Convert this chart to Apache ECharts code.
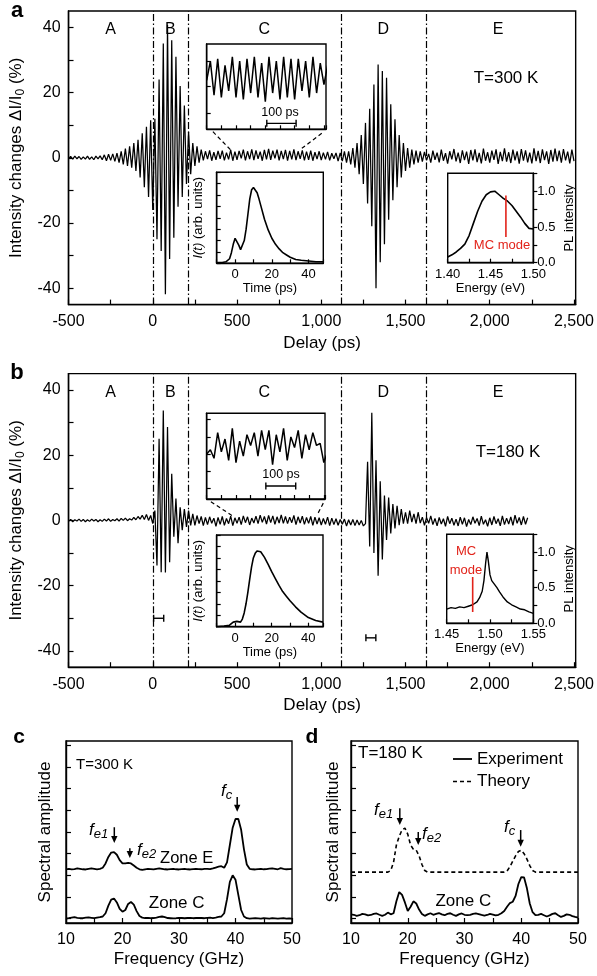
<!DOCTYPE html>
<html><head><meta charset="utf-8">
<script src="https://cdn.jsdelivr.net/npm/echarts@6/dist/echarts.min.js"></script>
<style>html,body{margin:0;padding:0;background:#fff}#c{width:597px;height:976px}</style>
</head><body><div id="c"></div>
<script>
// ---------------- DATA ----------------
// Panel a: delay grid start/step (ps) and signal (%)
const A_T0 = -500, A_DT = 12.5;
const aSignal = [
-0.3,0.4,-0.4,0.5,-0.3,0.4,-0.5,0.3,
-0.4,0.5,-0.5,0.3,-0.6,0.5,-0.3,0.6,
-0.6,0.9,-0.9,1.1,-0.8,1.2,-1.1,1.4,
-1.5,2.0,-2.0,2.8,-2.5,3.5,-3.0,4.5,
-4.0,5.5,-6.0,7.5,-9.0,9.5,-12.0,11.5,
-16,12,-25,24,-28.6,35,-41.8,40.7,
-31,36,-24.5,31,-15,22,-12,16,
-8,8,-5,4.5,-2.5,3.5,-1.5,2.5,
-0.8,2.0,-0.4,2.3,-0.9,1.7,-0.6,2.1,
-0.3,2.2,-0.8,1.6,-0.5,2.4,-0.9,1.9,
-0.6,2.1,-0.2,2.5,-0.8,2.0,-0.4,2.6,
-0.7,2.3,-0.3,1.9,-0.9,2.4,-0.5,2.7,
-0.6,2.2,-0.2,2.5,-0.8,2.1,-0.4,2.4,
-0.9,2.1,-0.5,2.6,-0.7,2.0,-0.3,2.3,
-0.8,1.9,-0.6,2.2,-0.9,1.7,-0.4,2.0,
-0.7,1.6,-0.5,1.8,-0.8,1.4,-0.3,1.5,
-1.0,1.5,-1.0,2.0,-1.5,2.0,-2.0,3.0,
-3.0,4.5,-5.0,7.0,-8.0,10.7,-14,15,
-21,22.5,-40,28.6,-32,26.6,-26.5,24.5,
-19,16.4,-13,11.8,-9,7,-6,4.5,
-4,3,-3,2.5,-2,2.2,-1.5,2,
-1.2,1.8,-0.8,1.2,-1.5,2.2,-0.6,1.6,
-1.4,2.5,-0.9,1.4,-1.8,2.0,-0.5,2.7,
-1.1,1.6,-1.6,2.3,-0.7,1.9,-1.9,2.4,
-0.8,2.6,-1.3,1.5,-1.7,2.8,-0.9,1.7,
-1.5,2.2,-0.6,2.6,-1.9,1.8,-1.0,2.9,
-1.2,1.7,-1.6,2.5,-0.8,2.0,-1.8,2.7,
-0.9,2.3,-1.4,1.6,-1.7,2.9,-1.0,2.1,
-1.6,2.6,-0.7,2.0,-1.9,2.4,-1.2,2.8,
-1.0,2.2,-1.5,2.7,-0.8,1.9,-1.7,2.5,
-1.0
];
// Panel b
const B_T0 = -500, B_DT = 12.5;
const bSignal = [
-0.3,0.3,-0.4,0.2,-0.2,0.4,-0.3,0.3,
-0.4,0.2,-0.3,0.4,-0.2,0.3,-0.4,0.2,
-0.3,0.4,-0.2,0.5,-0.3,0.3,-0.1,0.5,
-0.2,0.6,0.0,0.7,-0.1,0.5,0.1,0.9,
0.2,1.2,0.4,1.6,0.3,1.8,0.0,1.5,
-1,3,-13.8,25,-15.9,33.7,-16,28.6,
-12.8,14.3,-5,6.7,-7,4,-3,3.5,
-2,3,-1.5,2,-1.5,1.5,-1,1.2,
-1.6,0.9,-1.3,1.1,-0.9,0.7,-1.8,0.9,
-1.2,1.2,-1.5,0.6,-1.0,1.3,-1.6,0.8,
-0.9,1.0,-1.3,1.4,-0.7,1.1,-1.4,0.7,
-0.8,1.3,-1.0,1.6,-0.6,1.2,-1.1,1.5,
-0.7,1.4,-1.2,1.1,-0.8,1.7,-0.9,1.2,
-1.0,1.0,-0.7,1.5,-1.3,1.1,-0.8,1.3,
-1.2,0.9,-0.9,1.2,-1.5,1.0,-1.1,0.8,
-1.4,0.6,-1.2,1.0,-1.6,0.7,-1.3,0.5,
-1.5,0.3,-1.2,0.4,-1.7,0.2,-1.4,0.3,
-1.6,0.1,-1.4,0.0,-1.7,-1.0,18,-8,
33,-10,18.4,-17,12,-12,7.6,-6,
7,-4,5,-2.5,4.5,-1.5,3.5,-1,
2.5,-1,3,-0.5,2,-1,2.5,-0.8,
1.0,-1.5,0.8,-0.9,1.4,-1.3,0.6,-1.7,
0.9,-1.1,0.5,-1.8,1.2,-1.0,0.7,-1.5,
0.4,-1.7,1.0,-1.2,0.8,-1.9,0.3,-1.3,
1.1,-0.9,0.6,-1.6,1.3,-1.2,0.2,-1.8,
0.8,-1.4,1.2,-1.0,0.5,-1.7,1.4,-1.3,
0.7,-1.1,1.1,-1.5,1.6,-0.9,0.9,-1.4,
1.2,-1.2,0.8
];
// Zone boundaries (ps)
const zoneBounds = [0, 209, 1116, 1621];
const zoneNames = ['A','B','C','D','E'];
// Zoom insets (relative ps, arb.)
const Z_DT = 12.5;
const aZoom = [0.3,1.2,-0.4,1.3,-0.5,1.0,-0.2,1.4,-0.5,1.2,-0.6,1.3,-0.3,1.4,-0.5,1.1,-0.7,1.4,-0.3,1.2,-0.6,1.4,-0.5,1.3,-0.6,1.3,-0.2,1.2,-0.5,1.4,-0.3,1.1,0.1,1.0];
const bZoom = [0.1,0.3,-0.1,1.1,0.2,0.8,-0.2,1.3,-0.3,0.7,0.0,1.0,0.5,1.1,0.0,1.2,0.3,1.2,-0.4,1.0,0.2,1.3,-0.2,0.9,0.4,1.2,-0.1,1.0,0.3,1.1,0.5,0.6,-0.3,0.2];
// Pulse insets I(t)
const aPulseT = [-10,-7,-5,-3,-2,-1,0,1,2,3,4,5,6,7,8,9,10,11,12,13,14,16,18,20,22,24,26,28,30,33,36,40,44,48];
const aPulseV = [0.01,0.01,0.02,0.06,0.14,0.25,0.33,0.32,0.24,0.18,0.2,0.3,0.45,0.65,0.85,0.97,1.0,0.99,0.93,0.85,0.76,0.58,0.44,0.33,0.25,0.19,0.14,0.11,0.08,0.05,0.04,0.03,0.02,0.02];
const bPulseT = [-10,-6,-3,-1,0,1,2,3,4,5,6,7,8,9,10,11,12,13,14,16,18,20,22,24,26,28,30,33,36,40,44,48];
const bPulseV = [0.0,0.01,0.02,0.06,0.08,0.07,0.05,0.06,0.1,0.18,0.3,0.45,0.62,0.78,0.9,0.96,0.99,1.0,0.98,0.91,0.82,0.72,0.63,0.54,0.46,0.4,0.34,0.26,0.19,0.12,0.08,0.06];
// PL insets
const aPLE = [1.400,1.405,1.410,1.415,1.420,1.425,1.430,1.435,1.440,1.445,1.450,1.455,1.460,1.465,1.470,1.475,1.480,1.485,1.490,1.495,1.500];
const aPLV = [0.08,0.11,0.15,0.2,0.26,0.38,0.55,0.72,0.86,0.95,0.99,1.0,0.95,0.9,0.86,0.8,0.72,0.64,0.55,0.48,0.47];
const bPLE = [1.450,1.455,1.460,1.465,1.470,1.475,1.480,1.485,1.488,1.491,1.493,1.495,1.4965,1.498,1.500,1.502,1.505,1.508,1.511,1.515,1.520,1.525,1.530,1.535,1.540,1.545,1.550];
const bPLV = [0.20,0.22,0.21,0.23,0.22,0.24,0.26,0.3,0.36,0.45,0.6,0.85,1.0,0.88,0.68,0.6,0.55,0.5,0.44,0.37,0.3,0.26,0.23,0.2,0.19,0.16,0.14];
const aMC = {E:1.468, y0:0.36, y1:0.94};
const bMC = {E:1.480, y0:0.16, y1:0.65};
// Spectra (GHz grid)
const F0 = 10, DF = 0.5;
const zoneC300 = [0.20,0.22,0.25,0.27,0.24,0.22,0.22,0.25,0.26,0.24,0.22,0.25,0.27,0.30,0.45,0.80,1.08,1.13,0.95,0.65,0.52,0.60,0.88,0.97,0.85,0.55,0.32,0.25,0.23,0.24,0.22,0.23,0.25,0.28,0.30,0.27,0.23,0.22,0.21,0.22,0.24,0.23,0.22,0.23,0.24,0.22,0.23,0.24,0.23,0.22,0.24,0.25,0.23,0.25,0.28,0.30,0.45,1.10,1.90,2.20,2.00,1.30,0.60,0.30,0.22,0.20,0.21,0.22,0.21,0.20,0.22,0.21,0.20,0.22,0.21,0.20,0.21,0.22,0.20,0.21,0.20];
const zoneE300 = [2.48,2.50,2.47,2.49,2.52,2.50,2.48,2.47,2.50,2.52,2.50,2.48,2.50,2.55,2.75,3.05,3.25,3.27,3.15,2.90,2.75,2.75,2.78,2.75,2.65,2.55,2.48,2.45,2.48,2.50,2.49,2.47,2.50,2.52,2.50,2.48,2.47,2.49,2.50,2.48,2.47,2.49,2.50,2.48,2.47,2.49,2.50,2.49,2.48,2.50,2.50,2.49,2.52,2.56,2.60,2.62,2.55,2.80,3.60,4.40,4.80,4.80,4.30,3.40,2.70,2.50,2.48,2.47,2.49,2.50,2.48,2.49,2.51,2.52,2.50,2.48,2.53,2.50,2.48,2.49,2.50];
const exp180 = [0.40,0.38,0.33,0.36,0.42,0.40,0.35,0.37,0.42,0.44,0.38,0.33,0.38,0.48,0.40,0.45,1.00,1.43,1.30,0.95,0.55,0.75,1.00,0.90,0.62,0.42,0.33,0.40,0.45,0.38,0.42,0.46,0.40,0.36,0.42,0.45,0.38,0.33,0.40,0.44,0.38,0.36,0.38,0.42,0.44,0.41,0.37,0.34,0.37,0.42,0.39,0.35,0.38,0.45,0.55,0.75,0.92,0.98,1.25,1.80,2.12,2.10,1.60,0.90,0.50,0.36,0.38,0.42,0.36,0.30,0.35,0.42,0.45,0.36,0.28,0.33,0.40,0.38,0.32,0.28,0.25];
const theory180 = [2.35,2.35,2.35,2.35,2.35,2.35,2.35,2.35,2.35,2.35,2.35,2.35,2.35,2.35,2.42,2.80,3.60,4.00,4.30,4.38,4.10,3.60,3.40,3.36,3.10,2.70,2.42,2.35,2.35,2.35,2.35,2.35,2.35,2.35,2.35,2.35,2.35,2.35,2.35,2.35,2.35,2.35,2.35,2.35,2.35,2.35,2.35,2.35,2.35,2.35,2.35,2.35,2.35,2.35,2.35,2.40,2.60,2.85,3.10,3.30,3.36,3.20,2.95,2.65,2.42,2.35,2.35,2.35,2.35,2.35,2.35,2.35,2.35,2.35,2.35,2.35,2.35,2.35,2.35,2.35,2.35];
const legendNames = ['Experiment', 'Theory'];
// annotation anchors (data units)
const aConnectors = [[[357,8.0],[463,2.4]],[[1003,7.5],[885,2.9]]];
const bConnectors = [[[345,5.7],[482,1.1]],[[1012,5.3],[981,2.2]]];
const bPulseMarks = [[[5,-30],[65,-30]],[[1265,-36],[1324,-36]]];
const aScaleBar = [[205,-1.72],[305,-1.72]];
const bScaleBar = [[202,-1.39],[304,-1.39]];
const cArrows = [[18.55,4.42,3.69],[21.3,3.45,3.0],[40.3,5.82,5.13]];
const dArrows = [[18.6,5.3,4.52],[21.85,4.2,3.6],[39.9,4.29,3.52]];

// ---------------- BUILD ----------------
const FONT = 'Liberation Sans, Arial, sans-serif';
const K = '#000', RED = '#e2231a';
const pairs = (t0, dt, arr) => arr.map((v, i) => [t0 + i * dt, v]);
const zip = (xs, ys) => xs.map((x, i) => [x, ys[i]]);

function merge(a, b) {
  const o = Array.isArray(a) ? a.slice() : Object.assign({}, a);
  for (const k in b) {
    if (b[k] && typeof b[k] === 'object' && !Array.isArray(b[k]) && a[k] && typeof a[k] === 'object' && !Array.isArray(a[k])) o[k] = merge(a[k], b[k]);
    else o[k] = b[k];
  }
  return o;
}
const baseAxis = {
  type: 'value',
  axisLine: {show: true, onZero: false, lineStyle: {color: K, width: 1.4}},
  axisTick: {show: true, inside: true, length: 5, lineStyle: {color: K, width: 1.2}},
  splitLine: {show: false},
  axisLabel: {color: K, fontSize: 16, fontFamily: FONT},
  nameLocation: 'middle',
  nameTextStyle: {color: K, fontSize: 17, fontFamily: FONT}
};
const ax = o => merge(baseAxis, o);
function frame(o) { return Object.assign({show: true, borderColor: K, borderWidth: 1.4, backgroundColor: 'transparent'}, o); }
const commas = v => { if (v % 500 !== 0) return ''; const a = Math.abs(v); const s = a >= 1000 ? Math.floor(a / 1000) + ',' + String(a % 1000).padStart(3, '0') : String(a); return (v < 0 ? '-' : '') + s; };

const grids = [
  frame({left: 66.5, top: 11, width: 511, height: 293.6}),
  frame({left: 66.5, top: 373.6, width: 511, height: 293.6}),
  frame({left: 66, top: 741, width: 226, height: 182}),
  frame({left: 351, top: 741, width: 227, height: 182}),
  frame({left: 206.7, top: 44, width: 119.3, height: 85.3, backgroundColor: '#fff'}),
  frame({left: 216.7, top: 172.3, width: 106.6, height: 91, backgroundColor: '#fff'}),
  frame({left: 447.7, top: 173.3, width: 85.6, height: 89.4, backgroundColor: '#fff'}),
  frame({left: 206.7, top: 413.3, width: 118.3, height: 85.7, backgroundColor: '#fff'}),
  frame({left: 216.7, top: 535, width: 106.3, height: 91.7, backgroundColor: '#fff'}),
  frame({left: 446.7, top: 534.3, width: 86.6, height: 89, backgroundColor: '#fff'})
];

const yNameMain = {
  name: '{n|Intensity changes ΔI/I}{s|0}{n| (%)}', nameGap: 35, nameRotate: 90,
  nameTextStyle: {rich: {n: {fontSize: 17, fontFamily: FONT, color: K}, s: {fontSize: 12, fontFamily: FONT, color: K, padding: [8, 0, 0, 0]}}}
};
const mainX = gi => ax({gridIndex: gi, min: -500, max: 2510, interval: 500,
  minorTick: {show: true, splitNumber: 2, length: 5, lineStyle: {color: K, width: 1.2}},
  axisLabel: {formatter: commas, margin: 9}, name: 'Delay (ps)', nameGap: 30});
const mainY = gi => ax(Object.assign({gridIndex: gi, min: -45, max: 45,
  axisTick: {customValues: [-40, -30, -20, -10, 0, 10, 20, 30, 40]},
  axisLabel: {customValues: [-40, -20, 0, 20, 40], margin: 8}}, yNameMain));
const specX = gi => ax({gridIndex: gi, min: 10, max: 50, interval: 5,
  axisLabel: {formatter: v => (v % 10 === 0 ? String(v) : ''), margin: 9}, name: 'Frequency (GHz)', nameGap: 28});
const specY = (gi, gap) => ax({gridIndex: gi, min: 0, max: 8.4,
  axisTick: {customValues: [0.2, 1.2, 2.2, 3.2, 4.2, 5.2, 6.2, 7.2, 8.2]},
  axisLabel: {show: false}, name: 'Spectral amplitude', nameGap: gap, nameRotate: 90});
const small = {fontSize: 13};
const zoomX = (gi, mx) => ax({gridIndex: gi, min: 0, max: mx, interval: 50, axisTick: {length: 4}, axisLabel: {show: false}});
const zoomY = (gi, ticks) => ax({gridIndex: gi, min: -2, max: 2, axisTick: {length: 4, customValues: ticks}, axisLabel: {show: false}});
const pulseX = gi => ax({gridIndex: gi, min: -10, max: 48, interval: 10, axisTick: {length: 4},
  axisLabel: {fontSize: 13, margin: 5, formatter: v => (v >= 0 && v % 20 === 0 ? String(v) : '')},
  name: 'Time (ps)', nameGap: 18, nameTextStyle: small});
const pulseY = gi => ax({gridIndex: gi, min: 0, max: 1.2, interval: 0.15, axisTick: {length: 4}, axisLabel: {show: false},
  name: '{i|I(t)} (arb. units)', nameGap: 12, nameRotate: 90,
  nameTextStyle: {fontSize: 13, rich: {i: {fontStyle: 'italic', fontSize: 13, fontFamily: FONT, color: K}}}});
const plX = (gi, lo, hi) => ax({gridIndex: gi, min: lo, max: hi, interval: 0.025, axisTick: {length: 4},
  axisLabel: {fontSize: 13, margin: 5, formatter: v => { const r = Math.round(v * 20); return Math.abs(v * 20 - r) < 1e-6 ? (r / 20).toFixed(2) : ''; }},
  name: 'Energy (eV)', nameGap: 19, nameTextStyle: small});
const plY = gi => ax({gridIndex: gi, position: 'right', min: 0, max: 1.25, interval: 0.25,
  axisTick: {inside: false, length: 4},
  axisLabel: {fontSize: 13, margin: 4, formatter: v => { const r = Math.round(v * 2); return Math.abs(v * 2 - r) < 1e-6 && v <= 1.0 ? (r / 2).toFixed(1) : ''; }},
  name: 'PL intensity', nameGap: 30, nameRotate: 90, nameTextStyle: small});

const xAxes = [mainX(0), mainX(1), specX(2), specX(3), zoomX(4, 407), pulseX(5), plX(6, 1.40, 1.50), zoomX(7, 404), pulseX(8), plX(9, 1.45, 1.55)];
const yAxes = [mainY(0), mainY(1), specY(2, 12), specY(3, 9), zoomY(4, [-1.25, 0, 1.2]), pulseY(5), plY(6), zoomY(7, [-1.5, -0.7, 0.1, 0.9, 1.7]), pulseY(8), plY(9)];

function line(gi, data, extra) {
  return Object.assign({type: 'line', xAxisIndex: gi, yAxisIndex: gi, data, showSymbol: false, symbol: 'none',
    silent: true, animation: false, lineStyle: {color: K, width: 1.3}, itemStyle: {color: K}}, extra || {});
}
const zoneMark = {silent: true, symbol: 'none', label: {show: false},
  lineStyle: {color: K, type: [7, 2.5, 1.5, 2.5], width: 1.2}, data: zoneBounds.map(x => ({xAxis: x}))};
const capLine = (gi, data) => line(gi, data, {showSymbol: true, symbol: 'rect', symbolSize: [1.4, 7], lineStyle: {color: K, width: 1.4}});

const expStyle = {color: K, width: 1.8};
const theoStyle = {color: K, width: 1.6, type: [4, 3]};
const series = [
  line(0, pairs(A_T0, A_DT, aSignal), {markLine: zoneMark, lineStyle: {color: K, width: 1.25}}),
  ...aConnectors.map(d => line(0, d, {lineStyle: {color: K, width: 1.2, type: [4, 3]}})),
  line(1, pairs(B_T0, B_DT, bSignal), {markLine: zoneMark, lineStyle: {color: K, width: 1.25}}),
  ...bConnectors.map(d => line(1, d, {lineStyle: {color: K, width: 1.2, type: [4, 3]}})),
  ...bPulseMarks.map(d => capLine(1, d)),
  line(2, pairs(F0, DF, zoneE300), {lineStyle: {color: K, width: 1.8}}),
  line(2, pairs(F0, DF, zoneC300), {lineStyle: {color: K, width: 1.8}}),
  line(3, pairs(F0, DF, exp180), {name: legendNames[0], lineStyle: expStyle}),
  line(3, pairs(F0, DF, theory180), {name: legendNames[1], lineStyle: theoStyle}),
  line(4, pairs(0, Z_DT, aZoom), {lineStyle: {color: K, width: 1.5}}),
  capLine(4, aScaleBar),
  line(5, zip(aPulseT, aPulseV), {lineStyle: {color: K, width: 1.6}}),
  line(6, zip(aPLE, aPLV), {lineStyle: {color: K, width: 1.6}}),
  line(6, [[aMC.E, aMC.y0], [aMC.E, aMC.y1]], {lineStyle: {color: RED, width: 1.6}}),
  line(7, pairs(0, Z_DT, bZoom), {lineStyle: {color: K, width: 1.5}}),
  capLine(7, bScaleBar),
  line(8, zip(bPulseT, bPulseV), {lineStyle: {color: K, width: 1.6}}),
  line(9, zip(bPLE, bPLV), {lineStyle: {color: K, width: 1.4}}),
  line(9, [[bMC.E, bMC.y0], [bMC.E, bMC.y1]], {lineStyle: {color: RED, width: 1.6}})
];

const chart = echarts.init(document.getElementById('c'), null, {renderer: 'canvas'});
chart.setOption({
  animation: false,
  textStyle: {fontFamily: FONT},
  grid: grids, xAxis: xAxes, yAxis: yAxes, series
});

// ---------------- ANNOTATIONS ----------------
function txt(x, y, text, o) {
  return {type: 'text', x, y, silent: true, style: Object.assign({text, fill: K, fontSize: 16, fontFamily: FONT, align: 'center', verticalAlign: 'middle'}, o || {})};
}
const fRich = {f: {fontStyle: 'italic', fontSize: 17, fontFamily: FONT, fill: K}, s: {fontStyle: 'italic', fontSize: 13, fontFamily: FONT, fill: K, padding: [9, 0, 0, 0]}};
function fLabel(x, y, sub) { return txt(x, y, '{f|f}{s|' + sub + '}', {align: 'left', rich: fRich}); }
const g = [
  txt(17, 11, 'a', {fontSize: 22, fontWeight: 'bold'}),
  txt(17, 373, 'b', {fontSize: 22, fontWeight: 'bold'}),
  txt(19, 737, 'c', {fontSize: 21, fontWeight: 'bold'}),
  txt(312, 737, 'd', {fontSize: 21, fontWeight: 'bold'}),
  txt(506, 78, 'T=300 K', {fontSize: 17}),
  txt(508, 452, 'T=180 K', {fontSize: 17}),
  txt(280, 113, '100 ps', {fontSize: 12.5}),
  txt(281, 475, '100 ps', {fontSize: 12.5}),
  txt(502, 245, 'MC mode', {fontSize: 13, fill: RED}),
  txt(466, 551.7, 'MC', {fontSize: 13, fill: RED}),
  txt(466, 570, 'mode', {fontSize: 13, fill: RED}),
  txt(76, 765, 'T=300 K', {fontSize: 15, align: 'left'}),
  txt(358, 753, 'T=180 K', {fontSize: 17, align: 'left'}),
  txt(186.7, 858, 'Zone E', {fontSize: 16.5}),
  txt(176.7, 903, 'Zone C', {fontSize: 17}),
  txt(463.3, 901.5, 'Zone C', {fontSize: 17}),
  fLabel(89, 830, 'e1'), fLabel(137, 850, 'e2'), fLabel(221, 791, 'c'),
  fLabel(374, 810, 'e1'), fLabel(422, 834, 'e2'), fLabel(504, 827, 'c'),
  // legend of panel d
  {type: 'line', silent: true, shape: {x1: 453, y1: 759, x2: 472, y2: 759}, style: {stroke: K, lineWidth: expStyle.width}},
  txt(477, 759, legendNames[0], {fontSize: 17, align: 'left'}),
  {type: 'line', silent: true, shape: {x1: 453, y1: 781.5, x2: 473, y2: 781.5}, style: {stroke: K, lineWidth: theoStyle.width, lineDash: [4, 3]}},
  txt(477, 781.5, legendNames[1], {fontSize: 17, align: 'left'})
];
const zoneX = [-250, 105, 662, 1368, 2050];
[[0, 30], [1, 393]].forEach(([gi, y]) => {
  zoneNames.forEach((n, i) => {
    const p = chart.convertToPixel({gridIndex: gi}, [zoneX[i], 0]);
    g.push(txt(p[0], y, n, {fontSize: 16}));
  });
});
function arrow(gi, a) {
  const p1 = chart.convertToPixel({gridIndex: gi}, [a[0], a[1]]);
  const p2 = chart.convertToPixel({gridIndex: gi}, [a[0], a[2]]);
  return [
    {type: 'line', silent: true, shape: {x1: p1[0], y1: p1[1], x2: p2[0], y2: p2[1] - 4}, style: {stroke: K, lineWidth: 1.5}},
    {type: 'polygon', silent: true, shape: {points: [[p2[0] - 3.2, p2[1] - 7], [p2[0] + 3.2, p2[1] - 7], [p2[0], p2[1]]]}, style: {fill: K}}
  ];
}
cArrows.forEach(a => g.push(...arrow(2, a)));
dArrows.forEach(a => g.push(...arrow(3, a)));
chart.setOption({graphic: g});
</script></body></html>
